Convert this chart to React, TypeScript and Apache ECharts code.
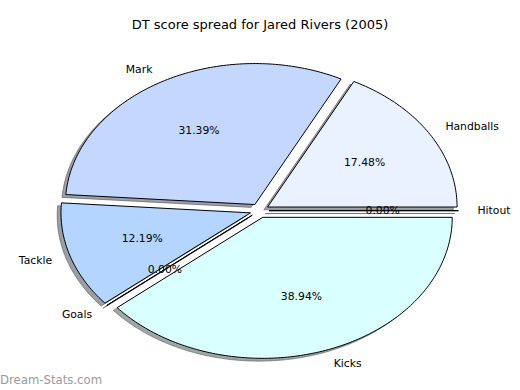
import React, { useEffect, useRef } from 'react';
import * as echarts from 'echarts';

const categories = ['Handballs', 'Mark', 'Tackle', 'Goals', 'Kicks', 'Hitout'];
const shares = [17.48, 31.39, 12.19, 0.0, 38.94, 0.0];
const sliceColors = ['#EAF1FF', '#C4D8FF', '#B3D5FF', '#C8E0FF', '#D9FFFF', '#E0F0FF'];
const titleText = 'DT score spread for Jared Rivers (2005)';
const watermarkText = 'Dream-Stats.com';

// geometry (pixels) of the elliptical pie
const CX = 259.5;
const CY = 210.7;
const RX = 189.5;
const RY = 141;
const EXPLODE = 0.05;
const LABEL_D = 1.1;
const PCT_D = 0.6;
const SHADOW_OFF = 0.02;
const FONT = 'DejaVu Sans';

const total = shares.reduce((a, b) => a + b, 0);

function sliceAngles(i: number, value: number): [number, number] {
  let start = 0;
  for (let j = 0; j < i; j++) start += shares[j];
  return [(start / total) * 2 * Math.PI, ((start + value) / total) * 2 * Math.PI];
}

function wedgePoints(i: number, value: number, dx: number, dy: number) {
  const [t1, t2] = sliceAngles(i, value);
  const tm = (t1 + t2) / 2;
  const ox = CX + EXPLODE * RX * Math.cos(tm) + dx;
  const oy = CY - EXPLODE * RY * Math.sin(tm) + dy;
  const pts: number[][] = [[ox, oy]];
  const n = Math.max(2, Math.ceil((t2 - t1) / (Math.PI / 180)));
  for (let k = 0; k <= n; k++) {
    const t = t1 + ((t2 - t1) * k) / n;
    pts.push([ox + RX * Math.cos(t), oy - RY * Math.sin(t)]);
  }
  return pts;
}

function shade(hex: string) {
  const r = parseInt(hex.slice(1, 3), 16);
  const g = parseInt(hex.slice(3, 5), 16);
  const b = parseInt(hex.slice(5, 7), 16);
  return `rgb(${Math.round(r * 0.3)},${Math.round(g * 0.3)},${Math.round(b * 0.3)})`;
}

export default function App() {
  const ref = useRef<HTMLDivElement>(null);
  useEffect(() => {
    document.body.style.margin = '0';
    const chart = echarts.init(ref.current!, null, { renderer: 'svg' });
    const data = shares.map((v, i) => ({ name: categories[i], value: v }));

    const option: any = {
      animation: false,
      backgroundColor: '#ffffff',
      title: [
        {
          text: titleText,
          left: 'center',
          top: 18,
          padding: 0,
          textStyle: { fontFamily: FONT, fontSize: 13, fontWeight: 'normal', color: '#000' },
        },
        {
          text: watermarkText,
          left: 0,
          top: 374,
          padding: 0,
          textStyle: { fontFamily: FONT, fontSize: 11.7, fontWeight: 'normal', color: '#9a9a9a' },
        },
      ],
      series: [
        {
          type: 'custom',
          coordinateSystem: 'none',
          z: 1,
          data,
          renderItem: (params: any, api: any) => {
            const i = params.dataIndex;
            const v = api.value(0);
            const c = shade(sliceColors[i]);
            return {
              type: 'polygon',
              shape: { points: wedgePoints(i, v, -SHADOW_OFF * RX, SHADOW_OFF * RY) },
              style: { fill: c, fillOpacity: 0.5, stroke: c, strokeOpacity: 0.5, lineWidth: 1 },
            };
          },
        },
        {
          type: 'custom',
          coordinateSystem: 'none',
          z: 2,
          data,
          renderItem: (params: any, api: any) => {
            const i = params.dataIndex;
            const v = api.value(0);
            return {
              type: 'polygon',
              shape: { points: wedgePoints(i, v, 0, 0) },
              style: { fill: sliceColors[i], stroke: '#000', lineWidth: 1 },
            };
          },
        },
        {
          type: 'custom',
          coordinateSystem: 'none',
          z: 3,
          data,
          renderItem: (params: any, api: any) => {
            const i = params.dataIndex;
            const v = api.value(0);
            const [t1, t2] = sliceAngles(i, v);
            const tm = (t1 + t2) / 2;
            const c = Math.cos(tm);
            const s = Math.sin(tm);
            const lx = CX + (LABEL_D + EXPLODE) * RX * c;
            const ly = CY - (LABEL_D + EXPLODE) * RY * s;
            const px = CX + (PCT_D + EXPLODE) * RX * c;
            const py = CY - (PCT_D + EXPLODE) * RY * s;
            return {
              type: 'group',
              children: [
                {
                  type: 'text',
                  x: lx,
                  y: ly,
                  style: {
                    text: categories[i],
                    fill: '#000',
                    fontFamily: FONT,
                    fontSize: 10.8,
                    align: c > 0 ? 'left' : 'right',
                    verticalAlign: 'middle',
                  },
                },
                {
                  type: 'text',
                  x: px,
                  y: py,
                  style: {
                    text: ((v / total) * 100).toFixed(2) + '%',
                    fill: '#000',
                    fontFamily: FONT,
                    fontSize: 10.8,
                    align: 'center',
                    verticalAlign: 'middle',
                  },
                },
              ],
            };
          },
        },
      ],
    };
    chart.setOption(option);
    return () => chart.dispose();
  }, []);
  return <div ref={ref} style={{ width: 520, height: 390 }} />;
}
